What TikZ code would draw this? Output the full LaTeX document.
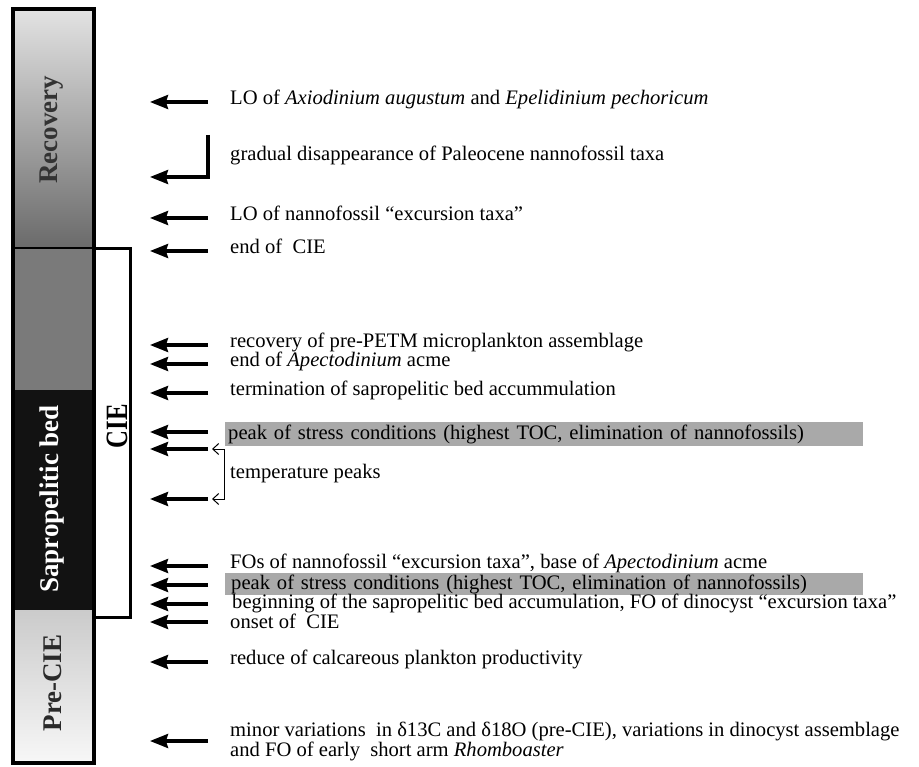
\documentclass[tikz,border=0pt]{standalone}
\usepackage{fontspec}
\setmainfont{Liberation Serif}
\usetikzlibrary{arrows.meta}

\definecolor{recTop}{HTML}{E3E3E3}
\definecolor{recBot}{HTML}{6A6A6A}
\definecolor{cieGrey}{HTML}{7A7A7A}
\definecolor{sapBlack}{HTML}{121212}
\definecolor{preTop}{HTML}{CBCBCB}
\definecolor{preBot}{HTML}{F7F7F7}
\definecolor{recText}{HTML}{333333}
\definecolor{preText}{HTML}{2A2A2A}
\definecolor{boxgrey}{HTML}{A9A9A9}

\tikzset{
  evarrow/.style={line width=3.2pt,-{Stealth[length=18pt,width=14pt,inset=2pt]}},
  evtext/.style={anchor=mid west,inner sep=0pt,font=\fontsize{20.6}{20}\selectfont,align=left},
  hlbox/.style={anchor=west,fill=boxgrey,inner xsep=3pt,inner ysep=0pt,minimum height=23pt,
    text width=632pt,font=\fontsize{20.6}{20}\selectfont,align=left},
  unitlabel/.style={rotate=90,inner sep=0pt,font=\fontsize{27}{27}\selectfont\bfseries},
}

\begin{document}
\begin{tikzpicture}[x=1pt,y=-1pt]
\useasboundingbox (0,0) rectangle (919,767);

% column of units
\shade[top color=recTop,bottom color=recBot] (13,9) rectangle (93.5,248);
\fill[cieGrey] (13,248) rectangle (93.5,390);
\fill[sapBlack] (13,390) rectangle (93.5,610);
\shade[top color=preTop,bottom color=preBot] (13,610) rectangle (93.5,763);
\draw[line width=1.5pt] (13,248) -- (93.5,248);
\draw[line width=4pt] (13,9) rectangle (93.5,763);

\node[unitlabel,text=recText] (rec) at (52,130) {Recovery};
\node[unitlabel,text=white] (sap) at (52,499) {Sapropelitic bed};
\node[unitlabel,text=preText] (pre) at (53,683) {Pre-CIE};

% CIE bracket
\coordinate (cietop) at (95,249);
\coordinate (ciebot) at (95,617);
\draw[line width=3pt] (cietop) -- ++(35,0) |- (ciebot);
\node[unitlabel,font=\fontsize{31}{31}\selectfont\bfseries] (cie) at (117,426) {\scalebox{0.8}[1]{CIE}};

% events
\coordinate (tip) at (150,0);
\foreach \nm/\yy in {a1/102,a3/218,a4/251,a5/345,a6/364,a7/393,a8/432,tp1/449,tp2/499,
                     a9/566,a10/585,a11/604,a12/622,a13/662,a14/741}
  \coordinate (\nm) at (208,\yy);
\foreach \nm in {a1,a3,a4,a5,a6,a7,a8,tp1,tp2,a9,a10,a11,a12,a13,a14}
  \draw[evarrow] (\nm) -- (\nm -| tip);

% gradual disappearance
\coordinate (gtop) at (208,135);
\coordinate (gbot) at (208,177);
\draw[evarrow] (gtop) -- (gbot) -- (gbot -| tip);

% temperature peaks
\coordinate (tb1) at (224,449);
\coordinate (tb2) at (224,499);
\draw[line width=1pt,{Straight Barb[length=6pt,width=11pt]}-{Straight Barb[length=6pt,width=11pt]}]
  ([xshift=-12pt]tb1) -- (tb1) -- (tb2) -- ([xshift=-12pt]tb2);

\node[evtext] (t1) at (230,102) {LO of \textit{Axiodinium augustum} and \textit{Epelidinium pechoricum}};
\node[evtext] (t2) at (230,158) {gradual disappearance of Paleocene nannofossil taxa};
\node[evtext] (t3) at (230,218) {LO of nannofossil “excursion taxa”};
\node[evtext] (t4) at (230,251) {end of~ CIE};
\node[evtext] (t5) at (230,345) {recovery of pre-PETM microplankton assemblage};
\node[evtext] (t6) at (230,364) {end of \textit{Apectodinium} acme};
\node[evtext] (t7) at (230,393) {termination of sapropelitic bed accummulation};
\node[hlbox] (t8) at (225,434) {peak of stress conditions (highest TOC, elimination of nannofossils)};
\node[evtext] (tt) at (230,476) {temperature peaks};
\node[evtext] (t9) at (230,566) {FOs of nannofossil “excursion taxa”, base of \textit{Apectodinium} acme};
\node[hlbox,inner xsep=6pt,text width=626pt,minimum height=22pt] (t10) at (225,584) {peak of stress conditions (highest TOC, elimination of nannofossils)};
\node[evtext] (t11) at (232,606) {beginning of the sapropelitic bed accumulation, FO of dinocyst “excursion taxa”};
\node[evtext] (t12) at (230,626) {onset of~ CIE};
\node[evtext] (t13) at (230,662) {reduce of calcareous plankton productivity};
\node[evtext,anchor=west] (t14) at (230,742) {minor variations~ in δ13C and δ18O (pre-CIE), variations in dinocyst assemblage\\and FO of early~ short arm \textit{Rhomboaster}};
\end{tikzpicture}
\end{document}
